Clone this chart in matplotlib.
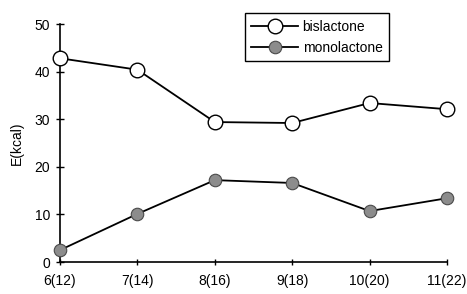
import matplotlib
matplotlib.use("Agg")
import matplotlib.pyplot as plt

categories = ["6(12)", "7(14)", "8(16)", "9(18)", "10(20)", "11(22)"]
bislactone = [42.8, 40.4, 29.4, 29.2, 33.4, 32.1]
monolactone = [2.5, 10.1, 17.2, 16.6, 10.7, 13.4]
yticks = [0, 10, 20, 30, 40, 50]

plt.rcParams['font.family'] = ['Liberation Sans', 'DejaVu Sans']

fig = plt.figure(figsize=(4.67, 2.94), dpi=100)
ax = fig.add_axes([60/467, 32/294, 387/467, 238/294])

x = list(range(len(categories)))
ax.plot(x, bislactone, color='black', lw=1.3, marker='o', ms=10.5,
        mfc='white', mec='black', mew=1.0, label='bislactone', clip_on=False, zorder=3)
ax.plot(x, monolactone, color='black', lw=1.3, marker='o', ms=9,
        mfc='#8c8c8c', mec='#4a4a4a', mew=0.8, label='monolactone', clip_on=False, zorder=3)

ax.set_xlim(0, len(categories) - 1)
ax.set_ylim(0, 50)
ax.set_xticks(x)
ax.set_xticklabels(categories, fontsize=10)
ax.set_yticks(yticks)
ax.set_yticklabels([str(v) for v in yticks], fontsize=10)
ax.tick_params(direction='inout', length=6, width=1, pad=4)
ax.tick_params(axis='x', length=5, pad=6)
for s in ['top', 'right']:
    ax.spines[s].set_visible(False)
for s in ['left', 'bottom']:
    ax.spines[s].set_linewidth(1.2)
ax.set_ylabel('E(kcal)', fontsize=10, labelpad=8)

leg = ax.legend(loc='upper left', bbox_to_anchor=(0.478, 1.045), fontsize=10,
                frameon=True, fancybox=False, edgecolor='black', framealpha=1,
                handlelength=3.4, borderpad=0.45, labelspacing=0.55, handletextpad=0.3,
                borderaxespad=0)
leg.get_frame().set_linewidth(1.0)

fig.savefig('out.png', dpi=100)
